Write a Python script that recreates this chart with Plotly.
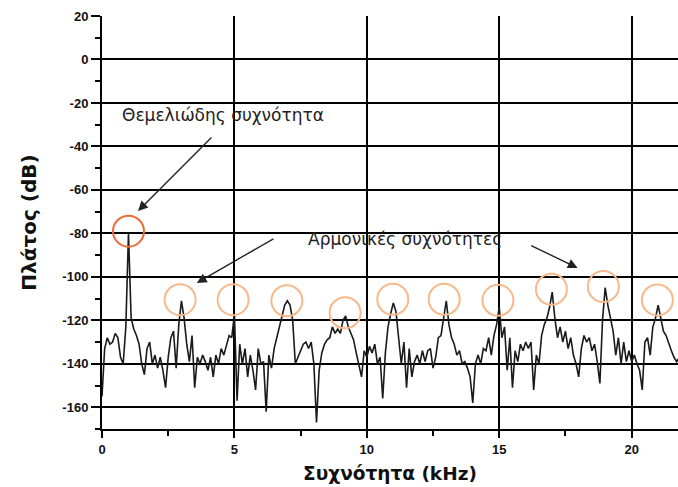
import plotly.graph_objects as go

# Frequency axis (kHz), 0.1 kHz spacing
freq_khz = [round(i * 0.1, 1) for i in range(0, 219)]

# Amplitude (dB)
amp_db = [
    -155, -133, -128, -131, -130, -126, -128, -137, -140, -123,   # 0.0-0.9
    -80, -119, -124, -127, -131, -140, -145, -133, -130, -140,    # 1.0-1.9
    -136, -142, -137, -143, -151, -137, -128, -125, -142, -122,   # 2.0-2.9
    -111, -119, -131, -139, -127, -151, -137, -140, -136, -139,   # 3.0-3.9
    -143, -137, -146, -136, -140, -133, -136, -131, -127, -128,   # 4.0-4.9
    -117, -157, -131, -140, -133, -146, -136, -143, -152, -133,   # 5.0-5.9
    -140, -139, -162, -136, -142, -133, -128, -123, -117, -113,   # 6.0-6.9
    -111, -113, -120, -140, -137, -134, -131, -130, -133, -130,   # 7.0-7.9
    -140, -167, -143, -135, -131, -129, -128, -123, -126, -124,   # 8.0-8.9
    -126, -120, -118, -123, -126, -129, -135, -140, -146, -134,   # 9.0-9.9
    -137, -132, -135, -131, -140, -137, -156, -135, -123, -117,   # 10.0-10.9
    -112, -116, -128, -140, -130, -151, -133, -146, -139, -136,   # 11.0-11.9
    -140, -134, -139, -134, -133, -142, -137, -128, -127, -119,   # 12.0-12.9
    -111, -122, -128, -131, -136, -134, -140, -139, -142, -146,   # 13.0-13.9
    -158, -140, -136, -140, -133, -134, -128, -136, -127, -122,   # 14.0-14.9
    -114, -128, -123, -143, -128, -151, -134, -139, -131, -134,   # 15.0-15.9
    -130, -133, -130, -152, -136, -140, -127, -122, -119, -114,   # 16.0-16.9
    -107, -119, -128, -123, -130, -125, -133, -128, -136, -140,   # 17.0-17.9
    -146, -133, -127, -130, -128, -134, -131, -139, -149, -120,   # 18.0-18.9
    -105, -113, -120, -125, -136, -128, -140, -130, -139, -134,   # 19.0-19.9
    -139, -136, -140, -143, -152, -130, -128, -136, -123, -119,   # 20.0-20.9
    -113, -120, -125, -127, -131, -134, -137, -139, -137,         # 21.0-21.8
]

# Highlighted peaks (circle centres)
fund_khz = [1.0]
fund_db = [-79]
harm_khz = [2.95, 4.95, 6.98, 9.18, 10.98, 12.92, 14.95, 16.97, 18.93, 20.97]
harm_db = [-110.5, -110.5, -111, -116.5, -110.3, -110.3, -110.8, -105.7, -104.5, -110.6]

y_ticks = [-160, -140, -120, -100, -80, -60, -40, -20, 0, 20]
x_ticks = [0, 5, 10, 15, 20]

title_fund = "Θεμελιώδης συχνότητα"
title_harm = "Αρμονικές συχνότητες"

fig = go.Figure()
fig.add_trace(go.Scatter(
    x=freq_khz, y=amp_db, mode="lines",
    line=dict(color="#1a1a1a", width=1.6),
    showlegend=False, hoverinfo="skip",
))

shapes = []
for fx, fy in zip(fund_khz, fund_db):
    shapes.append(dict(type="circle", xref="x", yref="y", xsizemode="pixel", ysizemode="pixel",
                       xanchor=fx, yanchor=fy, x0=-15.5, x1=15.5, y0=-15.5, y1=15.5,
                       line=dict(color="#EE6A35", width=2)))
for hx, hy in zip(harm_khz, harm_db):
    shapes.append(dict(type="circle", xref="x", yref="y", xsizemode="pixel", ysizemode="pixel",
                       xanchor=hx, yanchor=hy, x0=-15.5, x1=15.5, y0=-15.5, y1=15.5,
                       line=dict(color="#F8B88A", width=2)))

ann_font = dict(family="DejaVu Sans, Verdana", size=17, color="#222")
annotations = [
    dict(x=4.57, y=-25.5, xref="x", yref="y", text=title_fund, showarrow=False, font=ann_font),
    dict(x=11.44, y=-82.8, xref="x", yref="y", text=title_harm, showarrow=False, font=ann_font),
    # arrows
    dict(x=1.36, y=-69.7, ax=4.19, ay=-35.2, xref="x", yref="y", axref="x", ayref="y",
         text="", showarrow=True, arrowhead=2, arrowsize=1.4, arrowwidth=1.4, arrowcolor="#222"),
    dict(x=3.58, y=-102.8, ax=6.53, ay=-82.1, xref="x", yref="y", axref="x", ayref="y",
         text="", showarrow=True, arrowhead=2, arrowsize=1.4, arrowwidth=1.4, arrowcolor="#222"),
    dict(x=17.96, y=-95.9, ax=16.15, ay=-85.3, xref="x", yref="y", axref="x", ayref="y",
         text="", showarrow=True, arrowhead=2, arrowsize=1.4, arrowwidth=1.4, arrowcolor="#222"),
]

tick_font = dict(family="Liberation Sans, Arial", size=13, color="#111", weight="bold")
xtitle_font = dict(family="DejaVu Sans, Verdana", size=18.5, color="#111", weight="bold")
ytitle_font = dict(family="DejaVu Sans, Verdana", size=20, color="#111", weight="bold")

fig.update_layout(
    width=678, height=487,
    margin=dict(l=102, r=0, t=16, b=58),
    paper_bgcolor="white", plot_bgcolor="white",
    shapes=shapes, annotations=annotations,
    xaxis=dict(
        range=[0, 21.75], tickvals=x_ticks, ticktext=[str(v) for v in x_ticks],
        showgrid=True, gridcolor="#000", gridwidth=2,
        showline=True, linecolor="#000", linewidth=2,
        ticks="outside", ticklen=7, tickwidth=2, tickcolor="#000",
        minor=dict(dtick=2.5, tick0=0, ticks="outside", ticklen=5, tickwidth=2, tickcolor="#000", showgrid=False),
        tickfont=tick_font, zeroline=False,
        title=dict(text="Συχνότητα (kHz)", font=xtitle_font, standoff=11),
    ),
    yaxis=dict(
        range=[-170, 20], tickvals=y_ticks, ticktext=[str(v) for v in y_ticks],
        showgrid=True, gridcolor="#000", gridwidth=2,
        showline=True, linecolor="#000", linewidth=2,
        ticks="outside", ticklen=9, tickwidth=2, tickcolor="#000",
        minor=dict(dtick=10, tick0=0, ticks="outside", ticklen=5, tickwidth=2, tickcolor="#000", showgrid=False),
        tickfont=tick_font, zeroline=False,
        title=dict(text="Πλάτος (dB)", font=ytitle_font, standoff=20),
    ),
)

fig.write_html("out.html")
